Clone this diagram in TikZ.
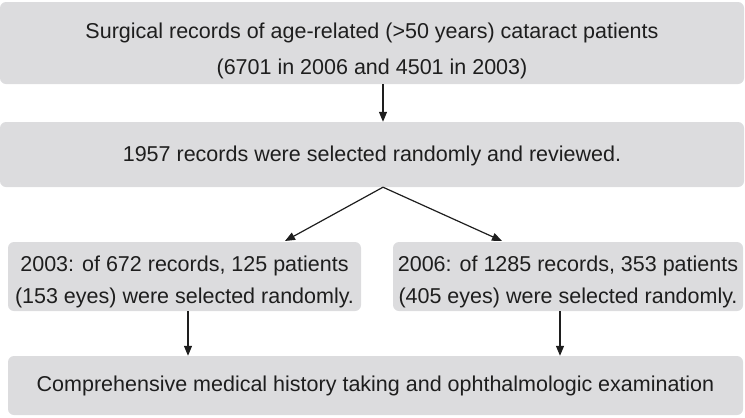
\documentclass[tikz,border=0pt]{standalone}
\usepackage{fontspec}
\setmainfont{Liberation Sans}
\usetikzlibrary{arrows.meta,calc}
\definecolor{boxgray}{RGB}{220,220,222}
\definecolor{inkgray}{RGB}{30,30,30}
\begin{document}
\begin{tikzpicture}[x=1pt,y=-1pt,
  box/.style={fill=boxgray,draw=none,rounded corners=6pt,inner sep=0pt},
  txt/.style={inner sep=0pt,align=center,text=inkgray,font=\fontsize{21.5}{36}\selectfont},
  arr/.style={draw=inkgray,line width=1.2pt,-{Triangle[length=10pt,width=8pt]}}]
\useasboundingbox (0,0) rectangle (745,418);
\node[box,minimum width=744pt,minimum height=82pt] (b1) at (372,43) {};
\node[box,minimum width=744pt,minimum height=65pt] (b2) at (372,154.5) {};
\node[box,minimum width=353pt,minimum height=69pt] (b3) at (184.5,276.5) {};
\node[box,minimum width=350pt,minimum height=69pt] (b4) at (568,276.5) {};
\node[box,minimum width=735pt,minimum height=59pt] (b5) at (375.5,385.5) {};
\node[txt] (t1) at ($(b1.center)+(0,7.5)$) {Surgical records of age-related (>50 years) cataract patients\\(6701 in 2006 and 4501 in 2003)};
\node[txt] (t2) at ($(b2.center)+(0,1.5)$) {1957 records were selected randomly and reviewed.};
\node[txt,font=\fontsize{21.5}{32}\selectfont] (t3) at ($(b3.center)+(0,5)$) {2003: of 672 records, 125 patients\\(153 eyes) were selected randomly.};
\node[txt,font=\fontsize{21.5}{32}\selectfont] (t4) at ($(b4.center)+(0,5)$) {2006: of 1285 records, 353 patients\\(405 eyes) were selected randomly.};
\node[txt] (t5) at ($(b5.center)+(0,0.5)$) {Comprehensive medical history taking and ophthalmologic examination};
\coordinate (xa) at (383,0);
\coordinate (xl) at (188,0);
\coordinate (xr) at (560,0);
\coordinate (tl) at (285,241);
\coordinate (tr) at (502,241);
\draw[arr] (b1.south -| xa) -- (b2.north -| xa);
\draw[arr] (b2.south -| xa) -- (tl);
\draw[arr] (b2.south -| xa) -- (tr);
\draw[arr] (b3.south -| xl) -- (b5.north -| xl);
\draw[arr] (b4.south -| xr) -- (b5.north -| xr);
\end{tikzpicture}
\end{document}
